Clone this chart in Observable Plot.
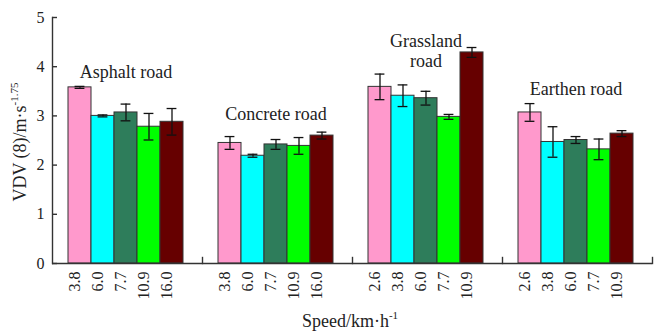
<!DOCTYPE html>
<html>
<head>
<meta charset="utf-8">
<script src="https://cdn.jsdelivr.net/npm/d3@7"></script>
<script src="https://cdn.jsdelivr.net/npm/@observablehq/plot@0.6"></script>
<style>
  html, body { margin: 0; padding: 0; background: #fff; }
</style>
</head>
<body>
<div id="chart"></div>
<script>
const groups = ["Asphalt road", "Concrete road", "Grassland road", "Earthen road"];
const groupLabels = ["Asphalt road", "Concrete road", "Grassland\nroad", "Earthen road"];
const labelY = [3.9, 3.05, 4.33, 3.56];
const speeds = [
  ["3.8", "6.0", "7.7", "10.9", "16.0"],
  ["3.8", "6.0", "7.7", "10.9", "16.0"],
  ["2.6", "3.8", "6.0", "7.7", "10.9"],
  ["2.6", "3.8", "6.0", "7.7", "10.9"]
];
const vdv = [
  [3.58, 3.00, 3.07, 2.78, 2.88],
  [2.45, 2.19, 2.42, 2.39, 2.60],
  [3.59, 3.41, 3.36, 2.98, 4.29],
  [3.07, 2.47, 2.51, 2.32, 2.64]
];
const err = [
  [0.02, 0.02, 0.17, 0.27, 0.27],
  [0.13, 0.03, 0.10, 0.17, 0.07],
  [0.26, 0.22, 0.14, 0.05, 0.10],
  [0.18, 0.31, 0.07, 0.21, 0.06]
];
const barColors = ["#ff99cc", "#00ffff", "#2e7d5b", "#00ff00", "#660000"];
const yTicks = [0, 1, 2, 3, 4, 5];
const slots = [0, 1, 2, 3, 4];

const rows = groups.flatMap((g, gi) => slots.map(s => ({
  group: g, slot: s, speed: speeds[gi][s], value: vdv[gi][s], err: err[gi][s]
})));
const labelRows = groups.map((g, gi) => ({group: g, label: groupLabels[gi], y: labelY[gi]}));

const axisColor = "#333";
const chart = Plot.plot({
  width: 654,
  height: 333,
  marginTop: 17,
  marginBottom: 70,
  marginLeft: 52,
  marginRight: 2,
  style: {fontFamily: "'Liberation Serif', 'Times New Roman', serif", fontSize: "16px", color: "#222", background: "#fff"},
  fx: {domain: groups, padding: 0, axis: null, label: null},
  x: {type: "band", domain: slots, paddingInner: 0, paddingOuter: 0.73, align: 0.47, axis: null},
  y: {domain: [0, 5], axis: null},
  color: {type: "ordinal", domain: slots, range: barColors},
  marks: [
    Plot.barY(rows, {fx: "group", x: "slot", y1: 0, y2: "value", fill: "slot", stroke: "#333", strokeWidth: 1}),
    Plot.ruleX(rows, {fx: "group", x: "slot", y1: d => d.value - d.err, y2: d => d.value + d.err, stroke: "#111", strokeWidth: 1.3}),
    Plot.tickY(rows, {fx: "group", x: "slot", y: d => d.value - d.err, insetLeft: 6.6, insetRight: 6.6, stroke: "#111", strokeWidth: 1.3}),
    Plot.tickY(rows, {fx: "group", x: "slot", y: d => d.value + d.err, insetLeft: 6.6, insetRight: 6.6, stroke: "#111", strokeWidth: 1.3}),
    Plot.text(rows, {fx: "group", x: "slot", frameAnchor: "bottom", text: "speed", rotate: -90, textAnchor: "end", dy: 8, fontSize: 16, fill: "#222"}),
    Plot.text(labelRows, {fx: "group", x: () => 2, y: "y", text: "label", fontSize: 18, lineHeight: 1.1, fill: "#222"}),
    Plot.ruleY([0], {stroke: axisColor, strokeWidth: 1.4}),
    Plot.frame({anchor: "left", facetAnchor: "left", stroke: axisColor, strokeWidth: 1.4}),
    Plot.frame({anchor: "right", insetTop: 240, stroke: axisColor, strokeWidth: 1.4}),
    Plot.ruleY(yTicks, {insetRight: 145, facetAnchor: "left", stroke: axisColor, strokeWidth: 1.4}),
    Plot.axisY({ticks: yTicks, tickSize: 0, tickPadding: 8, fontSize: 16, label: null, tickFormat: d => String(d)})
  ]
});

const svg = d3.select(chart);
const yt = svg.append("text")
  .attr("transform", "translate(26,142) rotate(-90)")
  .attr("text-anchor", "middle")
  .attr("font-size", 18)
  .attr("fill", "#222");
yt.append("tspan").text("VDV (8)/m·s");
yt.append("tspan").attr("font-size", 11).attr("dy", -8).text("-1.75");

const xt = svg.append("text")
  .attr("transform", "translate(350,327)")
  .attr("text-anchor", "middle")
  .attr("font-size", 18)
  .attr("fill", "#222");
xt.append("tspan").text("Speed/km·h");
xt.append("tspan").attr("font-size", 11).attr("dy", -8).text("-1");

document.getElementById("chart").append(chart);
</script>
</body>
</html>
